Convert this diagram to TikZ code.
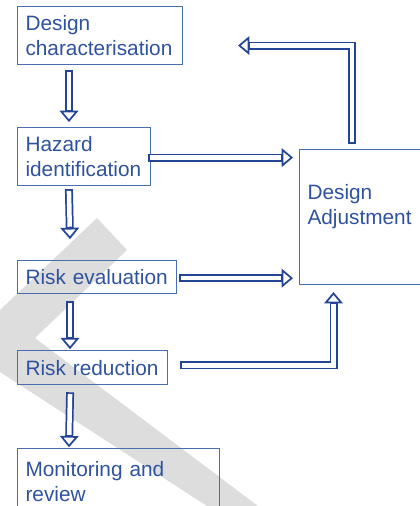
\documentclass[tikz,border=0pt]{standalone}
\usepackage{fontspec}
\setmainfont{Liberation Sans}
\usetikzlibrary{positioning, arrows.meta, calc}
\definecolor{txtblue}{RGB}{47,82,158}
\definecolor{arrblue}{RGB}{36,68,150}
\definecolor{boxblue}{RGB}{74,108,176}
\definecolor{wmgray}{RGB}{221,221,221}

\begin{document}
\begin{tikzpicture}
	[x=0.75pt, y=-0.75pt,
	 box/.style={draw=boxblue, line width=0.8pt, text=txtblue, align=left, anchor=north west,
	   inner xsep=6pt, inner ysep=0pt, font=\fontsize{15.6}{18.5}\selectfont},
	 dbl/.style={draw=white, line width=3.4pt, line join=miter, line cap=rect, shorten >=11pt,
	   preaction={draw=arrblue, line width=1.3pt, line cap=butt, shorten >=0pt,
	     -{Triangle[open, length=8.5pt, width=14pt]}},
	   preaction={draw=arrblue, line width=6pt, line join=miter, line cap=rect, shorten >=11pt}}]
   \useasboundingbox (0,0) rectangle (420,506);
   \clip (0,0) rectangle (420,506);
   % watermark band
   \fill[wmgray] (97,218) -- (127,250) -- (35,338) -- (258,506) -- (207,506) -- (0,372) -- (0,310) -- cycle;
   \node[box, text width=111.75pt, minimum height=43.5pt] (dc) at (17,6) {Design\\characterisation};
   \node[box, text width=87.75pt, minimum height=43.5pt, below=46.5pt of dc.south west, anchor=north west] (hz) {Hazard\\identification};
   \node[box, text width=107.25pt, minimum height=24.75pt, below=55.5pt of hz.south west, anchor=north west] (re) {Risk evaluation};
   \node[box, text width=100.5pt, minimum height=25.5pt, below=42pt of re.south west, anchor=north west] (rr) {Risk reduction};
   \node[box, text width=139.5pt, minimum height=49.5pt, below=47.25pt of rr.south west, anchor=north west] (mr) {Monitoring and\\review};
   \node[box, text width=85.5pt, minimum height=101.25pt, text depth=37pt] (da) at (299,149) {Design\\Adjustment};
   % down the left column
   \draw[dbl] ([shift={(52,9)}]dc.south west) -- ([shift={(52,-5)}]hz.north west);
   \draw[dbl] ([shift={(52,7)}]hz.south west) -- ([shift={(53,-21)}]re.north west);
   \draw[dbl] ([shift={(53,11)}]re.south west) -- ([shift={(53,-1)}]rr.north west);
   \draw[dbl] ([shift={(53,11)}]rr.south west) -- ([shift={(52,-1)}]mr.north west);
   % into and out of the adjustment box
   \draw[dbl] ($(hz.east)+(1,1)$) -- ($(hz.east -| da.west)+(-6,1)$);
   \draw[dbl] ($(re.east)+(6,1)$) -- ($(re.east -| da.west)+(-6,1)$);
   \draw[dbl] ($(rr.east)+(16,-2.5)$) -| ($(da.south west)+(34.5,7)$);
   \draw[dbl] ($(da.north west)+(53,-9)$) |- ($(dc.east)+(55,10)$);
\end{tikzpicture}
\end{document}
